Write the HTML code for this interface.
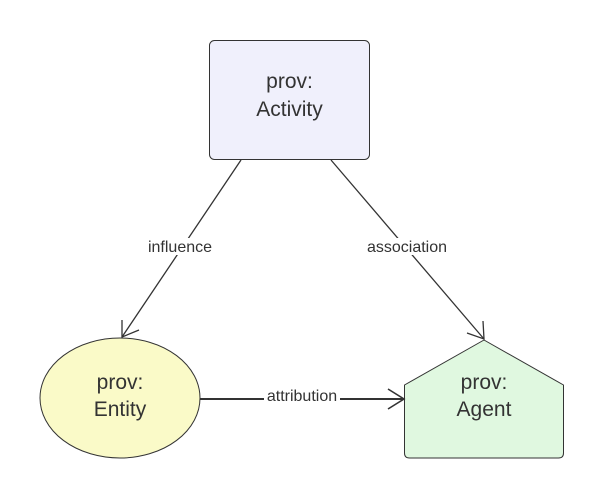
<!DOCTYPE html>
<html><head><style>
html,body{margin:0;padding:0;background:#fff;}
svg text{font-family:"Liberation Sans",sans-serif;fill:#333;}
</style></head><body>
<svg width="604" height="499" viewBox="0 0 604 499" xmlns="http://www.w3.org/2000/svg">
<rect x="209.5" y="40.5" width="160" height="119" rx="5" fill="#f0f0fc" stroke="#333" stroke-width="1"/>
<text x="289.5" y="88" font-size="21" text-anchor="middle">prov:</text>
<text x="289.5" y="116" font-size="21" text-anchor="middle">Activity</text>
<ellipse cx="120" cy="398" rx="80" ry="60" fill="#fafac8" stroke="#333" stroke-width="1"/>
<text x="120" y="389" font-size="21" text-anchor="middle">prov:</text>
<text x="120" y="416" font-size="21" text-anchor="middle">Entity</text>
<path d="M404.5 385 L484 340 L563.5 385 L563.5 453 Q563.5 458 558.5 458 L409.5 458 Q404.5 458 404.5 453 Z" fill="#e0f8e0" stroke="#333" stroke-width="1" stroke-linejoin="round"/>
<text x="484" y="389" font-size="21" text-anchor="middle">prov:</text>
<text x="484" y="416" font-size="21" text-anchor="middle">Agent</text>
<g stroke="#333" fill="none" stroke-width="1.3">
<line x1="241" y1="160" x2="122" y2="337"/>
<polyline points="122,320 122,337 139,330"/>
<line x1="331" y1="160" x2="484" y2="339"/>
<polyline points="467,333 484,339 483,321"/>
<line x1="200" y1="399" x2="404" y2="399" stroke-width="2"/>
<polyline points="388,389 404,399 388,409" stroke-width="1.6"/>
</g>
<rect x="146" y="238" width="68" height="17" fill="#fff"/>
<text x="180" y="252" font-size="16" text-anchor="middle">influence</text>
<rect x="365" y="238" width="84" height="17" fill="#fff"/>
<text x="407" y="252" font-size="16" text-anchor="middle">association</text>
<rect x="264" y="389" width="76" height="13" fill="#fff"/>
<text x="302" y="401" font-size="16" text-anchor="middle">attribution</text>
</svg>
</body></html>
